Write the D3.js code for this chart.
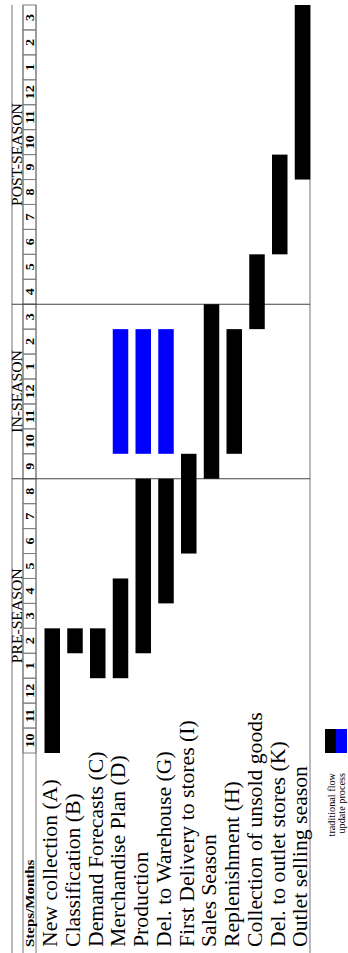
<!DOCTYPE html>
<html>
<head>
<meta charset="utf-8">
<script src="https://cdn.jsdelivr.net/npm/d3@7"></script>
<style>
html,body{margin:0;padding:0;background:#fff;}
svg{display:block;}
text{font-family:"Liberation Serif","Times New Roman",serif;fill:#000;}
</style>
</head>
<body>
<div id="chart"></div>
<script>
// ---- data ----
const months = ["10","11","12","1","2","3","4","5","6","7","8",
                "9","10","11","12","1","2","3",
                "4","5","6","7","8","9","10","11","12","1","2","3"];
const seasonNames = ["PRE-SEASON","IN-SEASON","POST-SEASON"];
const seasonStart = [0, 11, 18];
const seasonEnd   = [11, 18, 30];
const steps = ["New collection (A)","Classification (B)","Demand Forecasts (C)",
  "Merchandise Plan (D)","Production","Del. to Warehouse (G)",
  "First Delivery to stores (I)","Sales Season","Replenishment (H)",
  "Collection of unsold goods","Del. to outlet stores (K)","Outlet selling season"];
// traditional flow: start month index, end month index (exclusive)
const tradStart = [0, 4, 3, 3, 4, 6, 8, 11, 12, 17, 20, 23];
const tradEnd   = [5, 5, 5, 7, 11, 11, 12, 18, 17, 20, 24, 30];
// update process
const updSteps = ["Merchandise Plan (D)","Production","Del. to Warehouse (G)"];
const updStart = [12, 12, 12];
const updEnd   = [17, 17, 17];
const legendLabels = ["traditional flow","update process"];
const headerLabel = "Steps/Months";

// ---- drawing ----
const W = 348, H = 953;
const svg = d3.select("#chart").append("svg").attr("width", W).attr("height", H);
// rotated frame: u runs along time (page bottom -> top), v = page x
const g = svg.append("g").attr("transform", `translate(0,${H}) rotate(-90)`);

const x = d3.scaleLinear().domain([0, months.length]).range([200, 948]);
const row = d3.scaleBand().domain(steps).range([34.5, 307.5]);

const lineCol = "#808080";

// month cells
months.forEach((m, i) => {
  g.append("rect").attr("x", x(i)).attr("y", 23).attr("width", x(i+1)-x(i)).attr("height", 13)
    .attr("fill", "none").attr("stroke", lineCol).attr("stroke-width", 1);
});
// long lines
[12, 23, 36, 310].forEach(v => {
  g.append("line").attr("x1", 0).attr("x2", x(months.length)).attr("y1", v).attr("y2", v)
    .attr("stroke", lineCol).attr("stroke-width", 1.1);
});
// season dividers
[11, 18].forEach(i => {
  g.append("line").attr("x1", x(i)).attr("x2", x(i)).attr("y1", 12).attr("y2", 310)
    .attr("stroke", "#444").attr("stroke-width", 1.1);
});

// month labels
g.selectAll("text.month").data(months).join("text").attr("class","month")
  .attr("transform", (d,i) => `translate(${(x(i)+x(i+1))/2},33.5) scale(1.12,1)`)
  .attr("text-anchor","middle").attr("font-size", 12.5).attr("font-weight","bold")
  .text(d => d);

// season labels
seasonNames.forEach((s, i) => {
  g.append("text")
    .attr("transform", `translate(${(x(seasonStart[i])+x(seasonEnd[i]))/2},21.6) scale(1.08,1)`)
    .attr("text-anchor","middle").attr("font-size", 14.5).text(s);
});

// header
g.append("text").attr("transform", `translate(6,34) scale(1.2,1)`)
  .attr("font-size", 12.5).attr("font-weight","bold").text(headerLabel);

// step labels
g.selectAll("text.step").data(steps).join("text").attr("class","step")
  .attr("transform", d => `translate(6,${row(d)+22.5}) scale(1.06,1)`)
  .attr("font-size", 20.5).text(d => d);

// traditional bars
g.selectAll("rect.trad").data(steps).join("rect").attr("class","trad")
  .attr("x", (d,i) => x(tradStart[i])).attr("width", (d,i) => x(tradEnd[i]) - x(tradStart[i]))
  .attr("y", d => row(d) + 10).attr("height", 15.5).attr("fill", "#000");

// update bars
g.selectAll("rect.upd").data(updSteps).join("rect").attr("class","upd")
  .attr("x", (d,i) => x(updStart[i])).attr("width", (d,i) => x(updEnd[i]) - x(updStart[i]))
  .attr("y", d => row(d) + 10).attr("height", 15.5).attr("fill", "#0000ff");

// legend
const legCols = ["#000", "#0000ff"];
legendLabels.forEach((l, i) => {
  g.append("rect").attr("x", H - 753).attr("width", 24).attr("y", 325 + i*11).attr("height", 11)
    .attr("fill", legCols[i]);
  g.append("text").attr("transform", `translate(${H - 773},${334.5 + i*10.5}) scale(1.08,1)`)
    .attr("text-anchor","end").attr("font-size", 9.5).text(l);
});
</script>
</body>
</html>
